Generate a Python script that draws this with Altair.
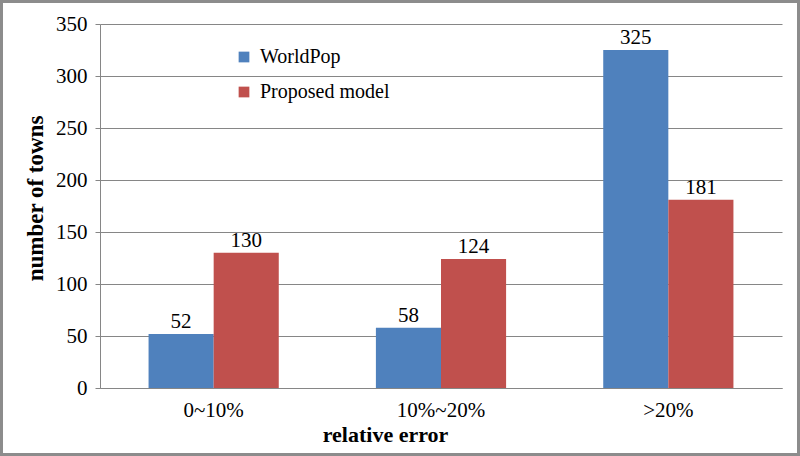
import altair as alt
import pandas as pd

categories = ["0~10%", "10%~20%", ">20%"]
series_names = ["WorldPop", "Proposed model"]
worldpop = [52, 58, 325]
proposed = [130, 124, 181]
colors = ["#4F81BD", "#C0504D"]

rows = []
for i, c in enumerate(categories):
    rows.append({"cat": c, "series": series_names[0], "value": worldpop[i]})
    rows.append({"cat": c, "series": series_names[1], "value": proposed[i]})
df = pd.DataFrame(rows)

FONT = "Liberation Serif"
W, H = 682, 364
PL, PT, PR, PB = 100, 24, 18, 68

x = alt.X("cat:N", sort=categories,
          scale=alt.Scale(paddingInner=0, paddingOuter=0),
          axis=alt.Axis(title="relative error", labelAngle=0, labelFontSize=21,
                        labelFont=FONT, labelColor="black", labelPadding=11,
                        ticks=False, domainColor="#868686",
                        titleFont=FONT, titleFontSize=22, titleFontWeight="bold",
                        titleColor="black", titleX=285, titleY=53,
                        titleAlign="center", titleBaseline="alphabetic"))
xo = alt.XOffset("series:N", sort=series_names,
                 scale=alt.Scale(paddingInner=0, paddingOuter=0.746))
y = alt.Y("value:Q", scale=alt.Scale(domain=[0, 350], nice=False),
          axis=alt.Axis(title="number of towns", values=list(range(0, 351, 50)),
                        labelFontSize=21, labelFont=FONT, labelColor="black",
                        labelPadding=8, tickSize=5, tickColor="#868686",
                        domainColor="#868686", gridColor="#868686",
                        titleFont=FONT, titleFontSize=23, titleFontWeight="bold",
                        titleColor="black", titleX=-65, titleY=174,
                        titleAngle=270, titleAlign="center", titleBaseline="middle"))

bars = alt.Chart(df).mark_bar().encode(
    x=x, xOffset=xo, y=y,
    color=alt.Color("series:N", sort=series_names,
                    scale=alt.Scale(domain=series_names, range=colors),
                    legend=alt.Legend(title=None, orient="none", legendX=134, legendY=23,
                                      symbolType="square", symbolSize=115,
                                      symbolStrokeWidth=0, labelFont=FONT,
                                      labelFontSize=20, labelColor="black",
                                      rowPadding=15, labelOffset=6)),
)

labels = alt.Chart(df).mark_text(dy=-6, baseline="alphabetic", font=FONT,
                                 fontSize=21, color="black").encode(
    x=x, xOffset=xo, y=y, text="value:Q")

frame = alt.Chart(pd.DataFrame({"a": [0]})).mark_rect(
    fill=None, stroke="#8c8c8c", strokeWidth=3).encode(
    x=alt.value(-PL + 1.5), x2=alt.value(W + PR - 1.5),
    y=alt.value(-PT + 1.5), y2=alt.value(H + PB - 1.5))

chart = alt.layer(bars, labels, frame).properties(
    width=W, height=H,
    padding={"left": PL, "top": PT, "right": PR, "bottom": PB},
    autosize=alt.AutoSizeParams(type="none"),
    background="white",
).configure_view(stroke=None).configure_axis(grid=False).configure_axisY(grid=True)

chart.save("out.html", embed_options={"renderer": "svg", "actions": False})
